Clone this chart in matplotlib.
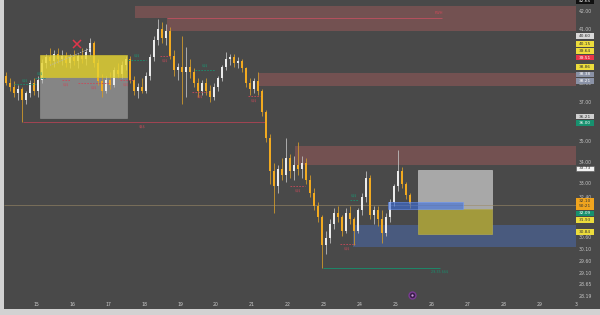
import numpy as np
import matplotlib
matplotlib.use("Agg")
import matplotlib.pyplot as plt
from matplotlib.patches import Rectangle
from matplotlib.ticker import NullLocator
from matplotlib.transforms import blended_transform_factory

# ---------------- data ----------------
start_day = 14 + 1.5 / 9
step_day = 1 / 9

opens = [38.4, 38.0, 37.8, 37.5, 37.7, 37.1, 37.5, 38.0, 37.6, 38.2,
         39.1, 39.4, 39.2, 39.6, 39.3, 39.5, 39.1, 39.4, 39.2, 39.5,
         39.3, 39.7, 40.2, 39.1, 38.1, 37.6, 38.2, 37.9, 38.7, 38.5,
         39.0, 39.3, 38.2, 37.6, 37.8, 37.6, 38.4, 39.4, 40.4, 41.0,
         40.5, 40.9, 39.5, 38.7, 38.9, 38.6, 38.9, 38.6, 38.0, 37.6,
         38.0, 37.6, 37.3, 37.8, 38.3, 38.9, 39.3, 39.4, 39.1, 39.2,
         38.8, 38.0, 37.7, 38.1, 37.6, 36.5, 35.2, 33.6, 32.9, 33.7,
         33.4, 34.2, 33.6, 33.9, 33.7, 34.0, 33.2, 32.6, 32.0, 31.5,
         30.3, 30.6, 31.2, 31.7, 31.5, 30.9, 31.7, 31.4, 30.9, 31.8,
         32.4, 33.3, 31.6, 31.8, 31.4, 30.8, 31.5, 32.2, 32.9, 33.6,
         33.0, 32.5]
highs = [38.6, 38.3, 38.1, 37.9, 37.8, 37.6, 38.2, 38.3, 38.4, 39.3,
         39.6, 39.9, 39.8, 39.9, 39.8, 39.7, 39.6, 39.8, 39.6, 39.9,
         39.9, 40.5, 40.3, 39.3, 38.5, 38.4, 38.6, 38.9, 39.1, 39.2,
         39.5, 39.5, 38.4, 38.0, 38.3, 38.6, 39.6, 40.6, 41.6, 41.4,
         41.3, 41.1, 39.8, 39.1, 40.6, 40.0, 39.3, 38.8, 38.3, 38.2,
         38.3, 37.9, 38.0, 38.4, 39.0, 39.7, 39.6, 39.6, 39.4, 39.3,
         38.9, 38.3, 38.3, 38.6, 37.7, 36.6, 35.4, 34.0, 33.9, 34.2,
         35.2, 34.4, 34.3, 35.0, 34.3, 34.2, 33.4, 32.8, 32.2, 31.6,
         30.9, 31.4, 31.9, 32.0, 31.6, 31.9, 32.0, 31.5, 31.9, 32.6,
         33.6, 33.4, 32.0, 32.0, 31.8, 31.7, 32.3, 33.0, 34.6, 33.8,
         33.1, 32.6]
lows = [37.9, 37.6, 37.3, 37.1, 36.0, 36.9, 37.3, 37.4, 37.3, 38.0,
        38.8, 39.0, 38.9, 39.1, 39.0, 38.9, 38.8, 39.0, 38.8, 39.1,
        39.0, 39.5, 38.9, 37.9, 37.3, 37.5, 37.7, 37.8, 38.3, 38.3,
        38.7, 38.0, 37.4, 37.2, 37.5, 37.5, 38.2, 39.2, 40.1, 40.2,
        40.1, 39.3, 38.4, 38.2, 36.9, 37.3, 38.3, 37.8, 37.3, 37.4,
        37.4, 37.0, 37.1, 37.6, 38.1, 38.7, 39.0, 38.9, 38.8, 38.6,
        37.8, 37.4, 37.5, 37.4, 36.3, 35.0, 33.0, 31.7, 32.6, 33.2,
        33.1, 33.3, 33.2, 33.4, 33.3, 33.0, 32.4, 31.8, 31.3, 29.35,
        29.9, 30.4, 31.0, 31.3, 30.7, 30.8, 31.2, 30.3, 30.8, 31.6,
        32.2, 31.4, 31.2, 31.1, 30.4, 30.7, 31.3, 32.0, 32.7, 32.8,
        32.3, 31.9]
closes = [38.0, 37.8, 37.5, 37.7, 37.1, 37.5, 38.0, 37.6, 38.2, 39.1,
          39.4, 39.2, 39.6, 39.3, 39.5, 39.1, 39.4, 39.2, 39.5, 39.3,
          39.7, 40.2, 39.1, 38.1, 37.6, 38.2, 37.9, 38.7, 38.5, 39.0,
          39.3, 38.2, 37.6, 37.8, 37.6, 38.4, 39.4, 40.4, 41.0, 40.5,
          40.9, 39.5, 38.7, 38.9, 38.6, 38.9, 38.6, 38.0, 37.6, 38.0,
          37.6, 37.3, 37.8, 38.3, 38.9, 39.3, 39.4, 39.1, 39.2, 38.8,
          38.0, 37.7, 38.1, 37.6, 36.5, 35.2, 33.6, 32.9, 33.7, 33.4,
          34.2, 33.6, 33.9, 33.7, 34.0, 33.2, 32.6, 32.0, 31.5, 30.3,
          30.6, 31.2, 31.7, 31.5, 30.9, 31.7, 31.4, 30.9, 31.8, 32.4,
          33.3, 31.6, 31.8, 31.4, 30.8, 31.5, 32.2, 32.9, 33.6, 33.0,
          32.5, 32.1]

x_tick_days = [15, 16, 17, 18, 19, 20, 21, 22, 23, 24, 25, 26, 27, 28, 29, 30]
x_tick_labels = ["15", "16", "17", "18", "19", "20", "21", "22", "23", "24",
                 "25", "26", "27", "28", "29", "3"]
y_tick_values = [42.00, 41.00, 38.00, 37.00, 35.00, 34.00, 33.00, 32.40,
                 30.60, 30.10, 29.60, 29.10, 28.65, 28.19]

# supply zones (red)
supply_x0 = [17.75, 18.64, 21.17, 22.19]
supply_x1 = [30.0, 30.0, 30.0, 30.0]
supply_top = [42.34, 41.64, 38.54, 34.81]
supply_bot = [41.64, 40.89, 37.85, 33.89]
# range boxes on the left
box_x0, box_x1 = 15.11, 17.53
yellow_top, yellow_bot = 39.54, 38.34
gray_top, gray_bot = 38.34, 36.19
# position tool on the right
pos_x0, pos_x1 = 25.61, 27.67
pos_top, pos_entry, pos_bot = 33.65, 31.86, 30.77
# demand zone (blue)
demand_x0, demand_x1, demand_top, demand_bot = 23.81, 30.0, 31.16, 30.21
fvg_x0, fvg_x1, fvg_top, fvg_bot = 24.78, 26.86, 32.18, 31.86
# lines
hline_price = 32.05
weekly_high_price, weekly_high_x0, weekly_high_x1 = 41.64, 18.64, 26.28
ssl_price, ssl_x0, ssl_x1 = 36.00, 14.64, 21.36
low_price, low_x0, low_x1 = 29.35, 22.97, 26.22
trend_x = [15.39, 16.53]
trend_p = [38.97, 39.92]
green_x0 = [14.40, 14.97, 17.55, 19.42, 23.72]
green_x1 = [15.00, 15.25, 18.05, 19.97, 23.94]
green_p = [37.95, 38.30, 39.27, 38.71, 32.27]
red_x0 = [15.72, 16.17, 17.33, 18.44, 19.33, 20.89, 22.06, 23.44]
red_x1 = [15.94, 17.06, 17.69, 18.72, 19.75, 21.22, 22.47, 23.86]
red_p = [38.18, 38.00, 38.18, 39.47, 37.54, 37.33, 32.90, 30.34]
cross_day, cross_price = 16.14, 40.15
event_day, event_price = 25.44, 28.25

# right-axis boxed labels
lbl_values = [42.65, 40.60, 40.15, 39.64, 39.51, 38.86, 38.38, 38.21,
              36.21, 36.00, 33.73, 32.10, 32.09, 31.93, 30.84]
lbl_texts = ["42.65", "40.60", "40.15", "39.64", "39.51", "38.86", "38.38", "38.21",
             "36.21", "36.00", "33.73", "32.10\n50:21", "32.09", "31.93", "30.84"]
lbl_bg = ["#111111", "#d8d8d8", "#ecdc3c", "#ecdc3c", "#e8364a", "#ecdc3c", "#8a92a6", "#8a92a6",
          "#cfcfcf", "#17916f", "#f2f2f2", "#f0a41e", "#17916f", "#ecdc3c", "#ecdc3c"]
lbl_fg = ["#ffffff", "#333333", "#333333", "#333333", "#ffffff", "#333333", "#ffffff", "#ffffff",
          "#333333", "#ffffff", "#333333", "#333333", "#ffffff", "#333333", "#333333"]
lbl_pinned = [True, False, False, False, False, False, False, False,
              False, False, False, True, False, False, False]
lbl_height = [6.5] * 11 + [13.0] + [6.5] * 3

# ---------------- figure ----------------
W, H = 600, 315
fig = plt.figure(figsize=(W / 100, H / 100), dpi=100, facecolor="#d2d2d2")
AX_L, AX_B, AX_W, AX_H = 4, 6, 596, 309
ax = fig.add_axes([AX_L / W, AX_B / H, AX_W / W, AX_H / H])
ax.set_facecolor("#494949")
ax.set_yscale("log")
XMIN, XMAX = 15 - 32 / 36, 15 + 564 / 36
PMIN, PMAX = 27.70, 42.70
ax.set_xlim(XMIN, XMAX)
ax.set_ylim(PMIN, PMAX)
for s in ax.spines.values():
    s.set_visible(False)
ax.set_xticks([])
ax.set_yticks([])
ax.yaxis.set_minor_locator(NullLocator())
ax.xaxis.set_minor_locator(NullLocator())

K = AX_H / np.log(PMAX / PMIN)


def to_px(p):
    return K * np.log(PMAX / p)


def to_price(px):
    return PMAX * np.exp(-px / K)


# zones behind candles
for x0, x1, t, b in zip(supply_x0, supply_x1, supply_top, supply_bot):
    ax.add_patch(Rectangle((x0, b), x1 - x0, t - b, facecolor="#a85c5c", alpha=0.45,
                           edgecolor="none", zorder=1))
ax.add_patch(Rectangle((box_x0, gray_bot), box_x1 - box_x0, gray_top - gray_bot,
                       facecolor="#909090", alpha=0.85, edgecolor="#9a9a9a", lw=0.4, zorder=1))
ax.add_patch(Rectangle((demand_x0, demand_bot), demand_x1 - demand_x0, demand_top - demand_bot,
                       facecolor="#4a5f8c", alpha=0.8, edgecolor="none", zorder=1))
ax.add_patch(Rectangle((pos_x0, pos_entry), pos_x1 - pos_x0, pos_top - pos_entry,
                       facecolor="#a8a8a8", edgecolor="#bdbdbd", lw=0.5, zorder=1))
ax.add_patch(Rectangle((pos_x0, pos_bot), pos_x1 - pos_x0, pos_entry - pos_bot,
                       facecolor="#a29a3c", edgecolor="#b0a850", lw=0.5, zorder=1))

ax.hlines(hline_price, XMIN, 30.0, color="#9c8a66", lw=0.5, alpha=0.8, zorder=1.5)
ax.hlines(weekly_high_price, weekly_high_x0, weekly_high_x1, color="#c05060", lw=0.6, zorder=1.5)
ax.text(weekly_high_x1 - 0.1, weekly_high_price + 0.15, "PWH", color="#d04858", fontsize=2.6,
        ha="center", va="bottom", zorder=5)
ax.hlines(ssl_price, ssl_x0, ssl_x1, color="#b04454", lw=0.6, zorder=1.5)
ax.text((ssl_x0 + ssl_x1) / 2 - 0.05, ssl_price - 0.15, "$$$", color="#c84a5a", fontsize=2.6,
        ha="center", va="top", zorder=5)
ax.hlines(low_price, low_x0, low_x1, color="#17916f", lw=0.6, zorder=1.5)
ax.text(low_x1, low_price - 0.06, "29.35 $$$", color="#17916f", fontsize=2.4,
        ha="center", va="top", zorder=5)
ax.plot(trend_x, trend_p, color="#b8b8b8", lw=0.6, ls=(0, (1.5, 1.5)), zorder=4)

for x0, x1, p in zip(green_x0, green_x1, green_p):
    ax.hlines(p, x0, x1, color="#17916f", lw=0.6, linestyles=(0, (2, 1.5)), zorder=4)
    ax.text((x0 + x1) / 2, p * 1.003, "$$$", color="#1a9a76", fontsize=2.3,
            ha="center", va="bottom", zorder=5)
for x0, x1, p in zip(red_x0, red_x1, red_p):
    ax.hlines(p, x0, x1, color="#c84a5a", lw=0.6, linestyles=(0, (2, 1.5)), zorder=4)
    ax.text((x0 + x1) / 2, p * 0.997, "$$$", color="#c84a5a", fontsize=2.3,
            ha="center", va="top", zorder=5)

# candles
xs = start_day + step_day * np.arange(len(closes))
o = np.array(opens); c = np.array(closes); hi = np.array(highs); lo = np.array(lows)
up = c >= o
body_w = step_day * 0.6
ax.vlines(xs[up], lo[up], hi[up], color="#bcbcbc", lw=0.6, zorder=2)
ax.vlines(xs[~up], lo[~up], hi[~up], color="#d09a2c", lw=0.6, zorder=2)
ax.bar(xs[up], np.abs(c - o)[up], bottom=np.minimum(o, c)[up], width=body_w,
       color="#ebebeb", edgecolor="none", zorder=3)
ax.bar(xs[~up], np.abs(c - o)[~up], bottom=np.minimum(o, c)[~up], width=body_w,
       color="#f2aa20", edgecolor="none", zorder=3)

# overlays above candles
ax.add_patch(Rectangle((box_x0, yellow_bot), box_x1 - box_x0, yellow_top - yellow_bot,
                       facecolor="#e8d633", alpha=0.82, edgecolor="#d8c830", lw=0.5, zorder=3.5))
ax.add_patch(Rectangle((fvg_x0, fvg_bot), fvg_x1 - fvg_x0, fvg_top - fvg_bot,
                       facecolor="#3a6ee0", alpha=0.6, edgecolor="#6a96ff", lw=0.6, zorder=3.5))
ax.plot([cross_day], [cross_price], marker="x", color="#e0364a", ms=6, mew=1.1, zorder=6)
ax.plot([event_day], [event_price], marker="o", ms=5, mfc="#3a1d4a", mec="#7a3a94",
        mew=1.0, zorder=6)
ax.plot([event_day], [event_price], marker="o", ms=1.6, mfc="#c8a0d8", mec="none", zorder=7)

# x tick labels
bx = blended_transform_factory(ax.transData, ax.transAxes)
for d, t in zip(x_tick_days, x_tick_labels):
    ax.text(d, 5 / AX_H, t, transform=bx, color="#cccccc", fontsize=3.3,
            ha="center", va="center", zorder=8)

# right price axis
by = blended_transform_factory(ax.transAxes, ax.transData)
BOX_X0 = (576 - AX_L) / AX_W
BOX_X1 = (594 - AX_L) / AX_W
TXT_X = (585 - AX_L) / AX_W
for v in y_tick_values:
    ax.text(TXT_X, v, f"{v:.2f}", transform=by, color="#c4c4c4", fontsize=3.3,
            ha="center", va="center", zorder=8)

# de-overlap boxed labels
pxs = [to_px(v) for v in lbl_values]
order = list(np.argsort(pxs))
for _ in range(400):
    moved = False
    for a, b in zip(order[:-1], order[1:]):
        need = (lbl_height[a] + lbl_height[b]) / 2
        gap = pxs[b] - pxs[a]
        if gap < need - 1e-6:
            ov = need - gap
            if lbl_pinned[a] and not lbl_pinned[b]:
                pxs[b] += ov
            elif lbl_pinned[b] and not lbl_pinned[a]:
                pxs[a] -= ov
            else:
                pxs[a] -= ov / 2
                pxs[b] += ov / 2
            moved = True
    if not moved:
        break

for px, t, bg, fg, h in zip(pxs, lbl_texts, lbl_bg, lbl_fg, lbl_height):
    ptop, pbot = to_price(px - h / 2 + 0.4), to_price(px + h / 2 - 0.4)
    ax.add_patch(Rectangle((BOX_X0, pbot), BOX_X1 - BOX_X0, ptop - pbot, transform=by,
                           facecolor=bg, edgecolor="#555555" if bg == "#f2f2f2" else "none",
                           lw=0.4, zorder=9, clip_on=False))
    ax.text(TXT_X, to_price(px), t, transform=by, color=fg, fontsize=3.1,
            ha="center", va="center", linespacing=1.25, zorder=10)

fig.savefig("out.png", dpi=100, facecolor=fig.get_facecolor())
